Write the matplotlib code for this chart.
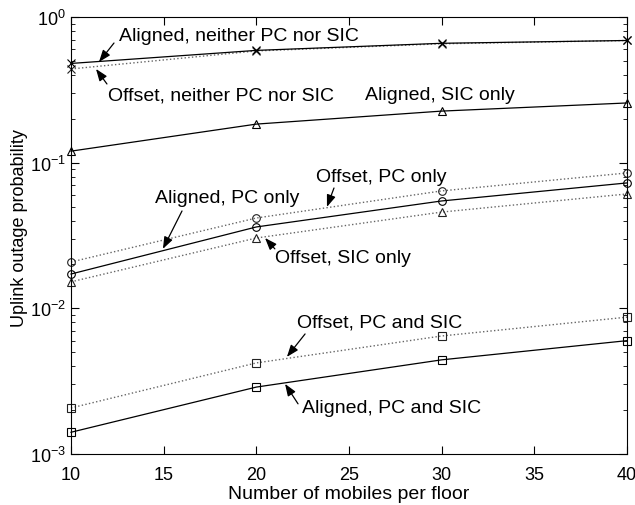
import numpy as np
import matplotlib
matplotlib.use("Agg")
import matplotlib.pyplot as plt

plt.rcParams['font.family'] = ['Liberation Sans', 'DejaVu Sans']
plt.rcParams['mathtext.fontset'] = 'custom'
plt.rcParams['mathtext.rm'] = 'Liberation Sans'
plt.rcParams['mathtext.it'] = 'Liberation Sans:italic'

mobiles = [10, 20, 30, 40]

aligned_none = [0.48, 0.59, 0.66, 0.69]
offset_none = [0.44, 0.585, 0.655, 0.69]
aligned_sic = [0.120, 0.184, 0.226, 0.257]
aligned_pc = [0.0172, 0.0362, 0.0546, 0.0726]
offset_pc = [0.0208, 0.0417, 0.064, 0.085]
offset_sic = [0.0152, 0.0304, 0.0458, 0.061]
offset_pcsic = [0.00207, 0.00422, 0.00646, 0.0087]
aligned_pcsic = [0.00141, 0.00288, 0.00443, 0.0060]

fig = plt.figure(figsize=(6.35, 5.06), dpi=100)
ax = fig.add_axes([0.1118, 0.1008, 0.8756, 0.8636])

solid = dict(color='black', linestyle='-', linewidth=0.9, markerfacecolor='none',
             markeredgecolor='black', markersize=5.5, markeredgewidth=0.8, clip_on=False)
dotted = dict(color='#666666', linestyle=':', linewidth=1.0, markerfacecolor='none',
              markeredgecolor='#222222', markersize=5.5, markeredgewidth=0.8, clip_on=False)

ax.plot(mobiles, offset_none, marker='x', **dotted)
ax.plot(mobiles, aligned_none, marker='x', **solid)
ax.plot(mobiles, aligned_sic, marker='^', **solid)
ax.plot(mobiles, offset_pc, marker='o', **dotted)
ax.plot(mobiles, offset_sic, marker='^', **dotted)
ax.plot(mobiles, aligned_pc, marker='o', **solid)
ax.plot(mobiles, offset_pcsic, marker='s', **dotted)
ax.plot(mobiles, aligned_pcsic, marker='s', **solid)

ax.set_yscale('log')
ax.set_xlim(10, 40)
ax.set_ylim(1e-3, 1)
ax.set_xticks([10, 15, 20, 25, 30, 35, 40])
ax.tick_params(which='both', direction='in', top=True, right=True, labelsize=13)
ax.tick_params(axis='x', pad=9)
ax.tick_params(which='major', length=6)
ax.tick_params(which='minor', length=3)
ax.set_xlabel('Number of mobiles per floor', fontsize=14, labelpad=1)
ax.set_ylabel('Uplink outage probability', fontsize=13)
ax.yaxis.set_label_coords(-0.077, 0.519)

fs = 14
arr = dict(arrowstyle='-|>,head_length=0.8,head_width=0.3', color='black', lw=0.9,
           mutation_scale=9, shrinkA=0, shrinkB=0)


def label(txt, pos, tail=None, tip=None):
    ax.text(pos[0], pos[1], txt, fontsize=fs, va='center', ha='left')
    if tip is not None:
        ax.annotate('', xy=tip, xytext=tail, arrowprops=arr)


label('Aligned, neither PC nor SIC', (12.59, 0.752), (12.32, 0.663), (11.51, 0.491))
label('Offset, neither PC nor SIC', (12.0, 0.292), (11.94, 0.347), (11.35, 0.44))
label('Aligned, SIC only', (25.86, 0.292))
label('Aligned, PC only', (14.53, 0.0573), (15.99, 0.0466), (14.96, 0.0256))
label('Offset, PC only', (23.22, 0.0798), (24.19, 0.067), (23.81, 0.0497))
label('Offset, SIC only', (21.0, 0.0222), (21.0, 0.0256), (20.47, 0.0304))
label('Offset, PC and SIC', (22.19, 0.00807), (22.63, 0.00667), (21.65, 0.00464))
label('Aligned, PC and SIC', (22.46, 0.00207), (22.25, 0.00221), (21.55, 0.00303))

fig.savefig('out.png', dpi=100)
